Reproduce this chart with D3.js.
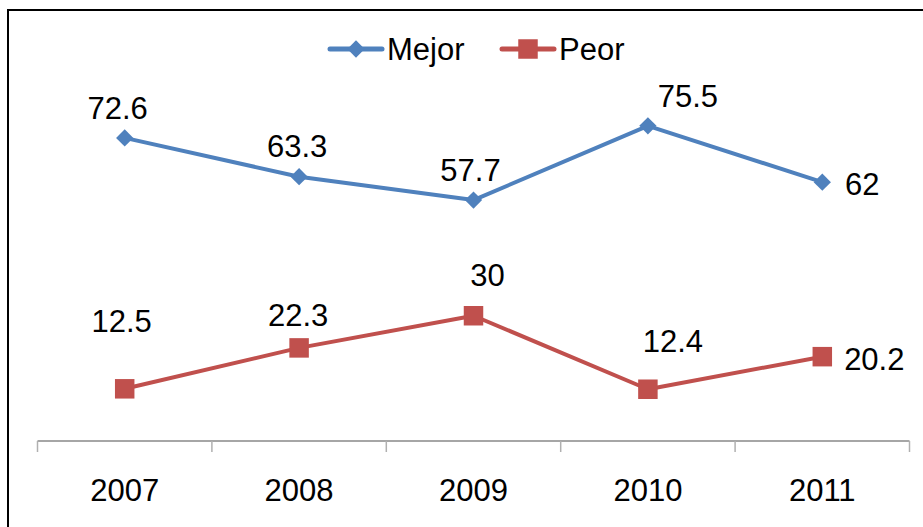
<!DOCTYPE html>
<html>
<head>
<meta charset="utf-8">
<script src="https://cdn.jsdelivr.net/npm/d3@7"></script>
<style>
  body { margin: 0; background: #fff; }
  svg { display: block; font-family: "Liberation Sans", Arial, sans-serif; }
</style>
</head>
<body>
<div id="chart"></div>
<script>
// chart data
const years = ["2007", "2008", "2009", "2010", "2011"];
const mejor = [72.6, 63.3, 57.7, 75.5, 62];
const peor = [12.5, 22.3, 30, 12.4, 20.2];

// where each data label sits relative to its point (dx, dy of baseline)
const mejorLabelPos = [[-7, -19], [-2, -20], [-3, -19], [40, -19], [40, 13]];
const peorLabelPos = [[-3, -57], [-1, -22], [14, -30], [25, -37], [52, 13]];

let w = 923;
let h = 527;
let fs = 31;

let svg = d3.select("#chart")
  .append("svg")
  .attr("width", w)
  .attr("height", h)

// outer frame (right and bottom edges fall off the canvas)
svg.append("path")
  .attr("d", "M8," + (h + 5) + "V10H" + (w + 5))
  .attr("fill", "none")
  .attr("stroke", "#000")
  .attr("stroke-width", 2)

var x = d3.scaleBand()
  .domain(years)
  .range([37.5, 909.5])

var y = d3.scaleLinear()
  .domain([0, 80])
  .range([441, 107])

// x axis: baseline plus boundary ticks between categories
var xAxis = svg.append("g")
  .attr("transform", "translate(0,441)")

xAxis.append("line")
  .attr("x1", x.range()[0])
  .attr("x2", x.range()[1])
  .attr("stroke", "#a6a6a6")
  .attr("stroke-width", 2)

var bounds = years.map(d => x(d)).concat([x.range()[1]])
xAxis.selectAll(".tick")
  .data(bounds)
  .join("line")
  .attr("class", "tick")
  .attr("x1", d => d)
  .attr("x2", d => d)
  .attr("y1", 0)
  .attr("y2", 11)
  .attr("stroke", "#b0b0b0")
  .attr("stroke-width", 1.5)

xAxis.selectAll(".yr")
  .data(years)
  .join("text")
  .attr("class", "yr")
  .attr("x", d => x(d) + x.bandwidth() / 2)
  .attr("y", 60)
  .attr("text-anchor", "middle")
  .attr("font-size", fs)
  .attr("fill", "#000")
  .text(d => d)

var cx = function(d, i) { return x(years[i]) + x.bandwidth() / 2; }

var line = d3.line()
  .x(cx)
  .y(function(d) { return y(d); })

var diamond = d3.symbol().type(d3.symbolDiamond2).size(190)
var square = d3.symbol().type(d3.symbolSquare).size(380)

function drawSeries(values, color, sym, labelPos) {
  var g = svg.append("g")
  g.append("path")
    .datum(values)
    .attr("d", line)
    .attr("fill", "none")
    .attr("stroke", color)
    .attr("stroke-width", 4)
    .attr("stroke-linejoin", "round")

  g.selectAll(".mk")
    .data(values)
    .join("path")
    .attr("class", "mk")
    .attr("d", sym)
    .attr("transform", (d, i) => "translate(" + cx(d, i) + "," + y(d) + ")")
    .attr("fill", color)

  g.selectAll(".lbl")
    .data(values)
    .join("text")
    .attr("class", "lbl")
    .attr("x", (d, i) => cx(d, i) + labelPos[i][0])
    .attr("y", (d, i) => y(d) + labelPos[i][1])
    .attr("text-anchor", "middle")
    .attr("font-size", fs)
    .attr("fill", "#000")
    .text(d => d)
}

drawSeries(mejor, "#4f81bd", diamond, mejorLabelPos)
drawSeries(peor, "#c0504d", square, peorLabelPos)

// legend
var legendItems = [
  {name: "Mejor", color: "#4f81bd", sym: diamond, x: 330},
  {name: "Peor", color: "#c0504d", sym: square, x: 502}
]

var lg = svg.selectAll(".legend")
  .data(legendItems)
  .join("g")
  .attr("class", "legend")
  .attr("transform", d => "translate(" + d.x + ",49)")

lg.append("line")
  .attr("x1", 0)
  .attr("x2", 52)
  .attr("stroke", d => d.color)
  .attr("stroke-width", 5)
  .attr("stroke-linecap", "round")

lg.append("path")
  .attr("d", d => d.sym())
  .attr("transform", "translate(26,0)")
  .attr("fill", d => d.color)

lg.append("text")
  .attr("x", 57)
  .attr("y", 11)
  .attr("font-size", fs)
  .attr("fill", "#000")
  .text(d => d.name)
</script>
</body>
</html>
